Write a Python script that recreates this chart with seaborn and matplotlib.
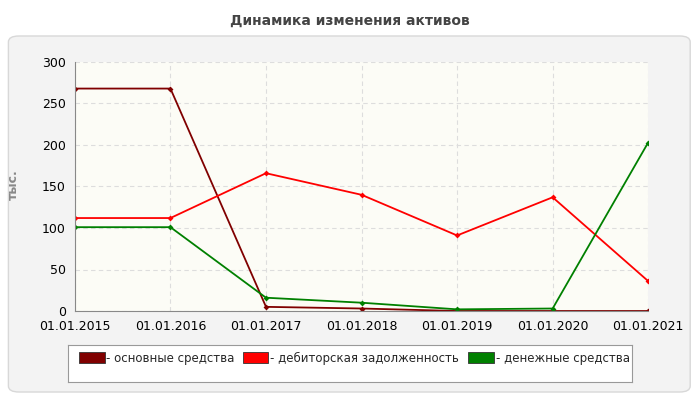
import matplotlib
matplotlib.use("Agg")
import matplotlib.pyplot as plt
from matplotlib.patches import FancyBboxPatch
import pandas as pd
import seaborn as sns

dates = ["01.01.2015", "01.01.2016", "01.01.2017", "01.01.2018",
         "01.01.2019", "01.01.2020", "01.01.2021"]
fixed_assets = [268, 268, 5, 3, 0, 0, 0]
receivables = [112, 112, 166, 140, 91, 137, 36]
cash = [101, 101, 16, 10, 2, 3, 203]

names = ["основные средства", "дебиторская задолженность", "денежные средства"]
colors = ["#800000", "#ff0000", "#008000"]

df = pd.DataFrame({"x": list(range(len(dates))) * 3,
                   "value": fixed_assets + receivables + cash,
                   "series": [n for n in names for _ in dates]})

sns.set_style("white")
plt.rcParams['font.family'] = ['DejaVu Sans']

fig = plt.figure(figsize=(7, 4), dpi=100)
fig.patch.set_facecolor("white")

# outer panel drawn on a background axes behind everything
bg = fig.add_axes([0, 0, 1, 1], zorder=-1)
bg.set_axis_off()
bg.set_xlim(0, 1)
bg.set_ylim(0, 1)
bg.add_patch(FancyBboxPatch((0.012, 0.02), 0.974, 0.89,
                            boxstyle="round,pad=0,rounding_size=0.015",
                            facecolor="#f3f3f3", edgecolor="#d8d8d8", lw=1))
fig.text(0.5, 0.948, "Динамика изменения активов", ha="center", va="center",
         fontsize=10, fontweight="bold", color="#444444")

ax = fig.add_axes([0.107, 0.2225, 0.819, 0.6225])
ax.set_facecolor("#fcfcf6")
sns.lineplot(data=df, x="x", y="value", hue="series", palette=colors, ax=ax,
             marker="D", markersize=3, markeredgewidth=0, linewidth=1.3, legend=False)

ax.set_xlim(0, 6)
ax.set_ylim(0, 300)
ax.set_xticks(range(len(dates)))
ax.set_xticklabels(dates)
ax.set_yticks(range(0, 301, 50))
ax.tick_params(labelsize=9, colors="black", length=3)
ax.grid(True, linestyle=(0, (4, 3)), color="#dddddd", linewidth=0.8)
for s in ["top", "right"]:
    ax.spines[s].set_visible(False)
ax.spines["left"].set_color("#888888")
ax.spines["bottom"].set_color("#888888")
ax.set_xlabel("")
ax.set_ylabel("тыс.", fontsize=9, fontweight="bold", color="#888888")
ax.yaxis.set_label_coords(-0.096, 0.506)

# legend box
leg_ax = fig.add_axes([0.097, 0.045, 0.806, 0.093])
leg_ax.set_xlim(0, 1)
leg_ax.set_ylim(0, 1)
leg_ax.set_xticks([])
leg_ax.set_yticks([])
leg_ax.set_facecolor("white")
for s in leg_ax.spines.values():
    s.set_color("#999999")
xs = [0.02, 0.31, 0.71]
for x0, n, c in zip(xs, names, colors):
    leg_ax.add_patch(plt.Rectangle((x0, 0.5), 0.045, 0.3, facecolor=c, edgecolor="#333333", lw=0.6))
    leg_ax.text(x0 + 0.048, 0.62, "- " + n, fontsize=8.5, va="center")

fig.savefig("out.png", dpi=100)
